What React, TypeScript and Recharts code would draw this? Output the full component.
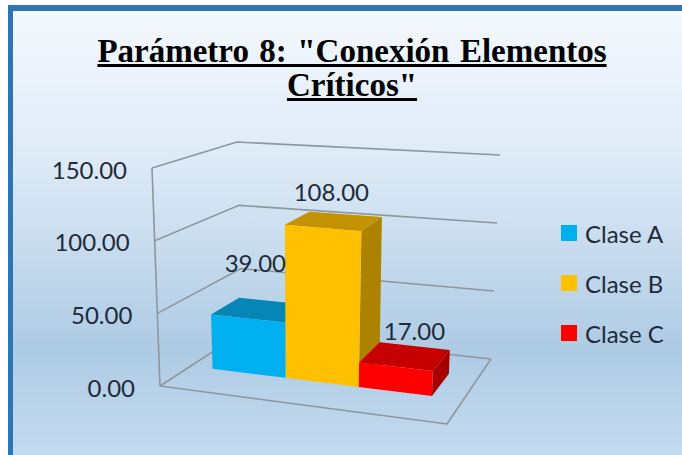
import { BarChart, Bar, XAxis, YAxis, CartesianGrid, Legend, LabelList } from "recharts"

const categories = ["Conexión Elementos Críticos"]
const seriesNames = ["Clase A", "Clase B", "Clase C"]
const claseA = [39]
const claseB = [108]
const claseC = [17]
const yTicks = [0, 50, 100, 150]
const titleLines = ['Parámetro 8: "Conexión Elementos', 'Críticos"']

const data = categories.map((category, i) => ({
  category,
  [seriesNames[0]]: claseA[i],
  [seriesNames[1]]: claseB[i],
  [seriesNames[2]]: claseC[i],
}))

// flat plot area, gets bent onto the 3D cage below
const PLOT = { left: 160, top: 168, width: 287, height: 218 }
const FONT = "Lato, sans-serif"
const TEXT = "#1f2b3a"
const GRID = "#8d969d"

// screen corners of the cage: front/back, left/right, bottom/top
const CAGE = {
  fl0: [160, 386], fl1: [152, 168],
  fr0: [447, 424], fr1: [458, 192],
  bl0: [243, 332], bl1: [237, 142],
  br0: [491, 359], br1: [500, 155],
}

const mix = (a: number[], b: number[], t: number) => [a[0] + (b[0] - a[0]) * t, a[1] + (b[1] - a[1]) * t]

function project(u: number, d: number, v: number) {
  const bottom = mix(mix(CAGE.fl0, CAGE.fr0, u), mix(CAGE.bl0, CAGE.br0, u), d)
  const top = mix(mix(CAGE.fl1, CAGE.fr1, u), mix(CAGE.bl1, CAGE.br1, u), d)
  return mix(bottom, top, v)
}

const toU = (x: number) => (x - PLOT.left) / PLOT.width
const toV = (y: number) => (PLOT.top + PLOT.height - y) / PLOT.height
const pts = (list: number[][]) => list.map((p) => p.join(",")).join(" ")

const DEPTH_FRONT = 0.37
const DEPTH_BACK = 0.72

function cuboid(front: string, top: string, side: string) {
  return (props: any) => {
    const u0 = toU(props.x)
    const u1 = toU(props.x + props.width)
    const v = toV(props.y)
    const p = (u: number, d: number, w: number) => project(u, d, w)
    return (
      <g>
        <polygon points={pts([p(u0, DEPTH_FRONT, v), p(u1, DEPTH_FRONT, v), p(u1, DEPTH_BACK, v), p(u0, DEPTH_BACK, v)])} fill={top} />
        <polygon points={pts([p(u1, DEPTH_FRONT, 0), p(u1, DEPTH_BACK, 0), p(u1, DEPTH_BACK, v), p(u1, DEPTH_FRONT, v)])} fill={side} />
        <polygon points={pts([p(u0, DEPTH_FRONT, 0), p(u1, DEPTH_FRONT, 0), p(u1, DEPTH_FRONT, v), p(u0, DEPTH_FRONT, v)])} fill={front} />
      </g>
    )
  }
}

function gridLine(props: any) {
  const v = toV(props.y1)
  const key = props.key ?? props.y1
  if (v > 1.01 || v < -0.01) return <g key={key} />
  const wall = [project(0, 0, v), project(0, 1, v), project(1, 1, v)]
  const lineProps = { fill: "none", stroke: GRID, strokeWidth: 1.6 }
  return (
    <g key={key}>
      <polyline points={pts(wall)} {...lineProps} />
      {Math.abs(v) < 0.01 && (
        <>
          <polyline points={pts([project(0, 0, 0), project(1, 0, 0), project(1, 1, 0)])} {...lineProps} />
          <polyline points={pts([project(0, 0, 0), project(0, 0, 1)])} {...lineProps} />
        </>
      )}
    </g>
  )
}

function yTick(props: any) {
  const p = project(0, 0, toV(props.y))
  return (
    <text x={p[0] - 25} y={p[1] + 1} textAnchor="end" dominantBaseline="central" fontFamily={FONT} fontSize={24} fill={TEXT}>
      {props.payload.value.toFixed(2)}
    </text>
  )
}

function valueLabel(dx: number, dy: number) {
  return (props: any) => {
    const p = project(toU(props.x + props.width / 2), (DEPTH_FRONT + DEPTH_BACK) / 2, toV(props.y))
    return (
      <text x={p[0] + dx} y={p[1] + dy} textAnchor="middle" dominantBaseline="central" fontFamily={FONT} fontSize={24} fill={TEXT}>
        {Number(props.value).toFixed(2)}
      </text>
    )
  }
}

function legendContent(props: any) {
  return (
    <div>
      {props.payload.map((item: any) => (
        <div key={item.value} style={{ display: "flex", alignItems: "center", height: 50, fontFamily: FONT, fontSize: 24, color: TEXT, whiteSpace: "nowrap" }}>
          <span style={{ width: 16, height: 16, background: item.color, marginRight: 8 }} />
          {item.value}
        </div>
      ))}
    </div>
  )
}

export default function App() {
  return (
    <div
      style={{
        position: "absolute",
        left: 0,
        top: 0,
        width: 682,
        height: 455,
        overflow: "hidden",
        background: "#fff",
      }}
    >
      <div
        style={{
          position: "absolute",
          left: 8,
          top: 5,
          width: 674,
          height: 450,
          boxSizing: "border-box",
          borderLeft: "5px solid #2e75b6",
          borderTop: "6px solid #2e75b6",
          background: "linear-gradient(180deg, #f5f9fe 0%, #dce9f6 35%, #aecbe4 76%, #c4dbef 100%)",
        }}
      />
      {titleLines.map((line, i) => (
        <div
          key={line}
          style={{
            position: "absolute",
            left: 0,
            width: 704,
            top: 34 + i * 34,
            textAlign: "center",
            fontFamily: '"Liberation Serif", serif',
            fontWeight: "bold",
            fontSize: 33,
            wordSpacing: 2.2,
            lineHeight: "34px",
            color: "#000",
            textDecoration: "underline",
            whiteSpace: "nowrap",
          }}
        >
          {line}
        </div>
      ))}
      <div style={{ position: "absolute", left: 0, top: 0 }}>
        <BarChart
          width={682}
          height={455}
          data={data}
          barGap={0}
          barCategoryGap={23}
          margin={{ left: 100, right: 235, top: PLOT.top, bottom: 455 - PLOT.top - PLOT.height }}
        >
          <CartesianGrid vertical={false} horizontal={gridLine} />
          <XAxis dataKey="category" hide padding={{ left: 0, right: 9 }} />
          <YAxis width={60} domain={[0, 150]} ticks={yTicks} interval={0} axisLine={false} tickLine={false} tick={yTick} />
          <Legend
            layout="vertical"
            align="center"
            verticalAlign="middle"
            content={legendContent}
            wrapperStyle={{ left: 561, top: 208, width: 120, bottom: "auto", right: "auto" }}
          />
          <Bar dataKey={seriesNames[0]} fill="#00b0f0" isAnimationActive={false} shape={cuboid("#00b0f0", "#0586b6", "#0586b6")}>
            <LabelList dataKey={seriesNames[0]} content={valueLabel(-6, -47)} />
          </Bar>
          <Bar dataKey={seriesNames[1]} fill="#ffc000" isAnimationActive={false} shape={cuboid("#ffc000", "#c29200", "#ad8200")}>
            <LabelList dataKey={seriesNames[1]} content={valueLabel(-3, -30)} />
          </Bar>
          <Bar dataKey={seriesNames[2]} fill="#ff0000" isAnimationActive={false} shape={cuboid("#ff0000", "#c60000", "#a80000")}>
            <LabelList dataKey={seriesNames[2]} content={valueLabel(9, -26)} />
          </Bar>
        </BarChart>
      </div>
    </div>
  )
}
